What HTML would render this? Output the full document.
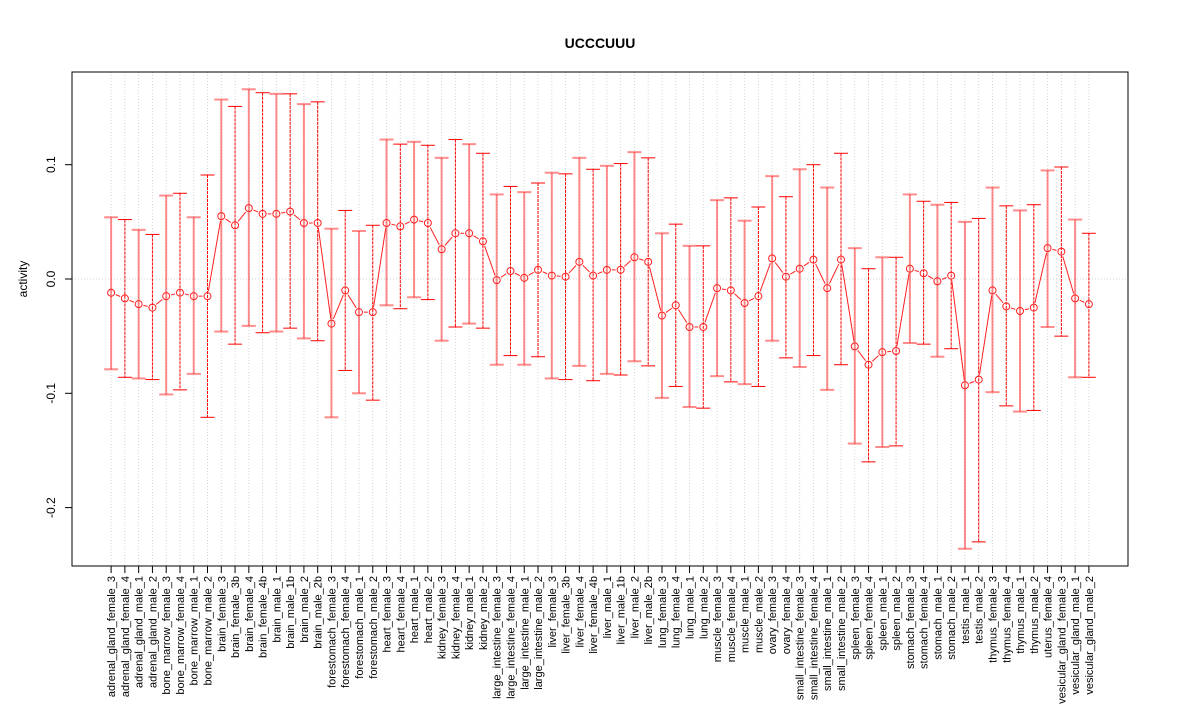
<!DOCTYPE html>
<html><head><meta charset="utf-8"><style>
body{margin:0;background:#fff;}
svg{display:block;font-family:"Liberation Sans",Arial,sans-serif;}
</style></head><body>
<svg id="chart" width="1200" height="720">
<text x="600" y="48" text-anchor="middle" font-weight="bold" font-size="14">UCCCUUU</text>
<text transform="translate(27,279) rotate(-90)" text-anchor="middle" font-size="12">activity</text>
<g id="grid"></g><g id="bars"></g><g id="lines"></g><g id="pts"></g><g id="axes"></g>
<rect x="72" y="72" width="1056" height="494" fill="none" stroke="#000"/>
</svg>
<script>
const categories=["adrenal_gland_female_3","adrenal_gland_female_4","adrenal_gland_male_1","adrenal_gland_male_2","bone_marrow_female_3","bone_marrow_female_4","bone_marrow_male_1","bone_marrow_male_2","brain_female_3","brain_female_3b","brain_female_4","brain_female_4b","brain_male_1","brain_male_1b","brain_male_2","brain_male_2b","forestomach_female_3","forestomach_female_4","forestomach_male_1","forestomach_male_2","heart_female_3","heart_female_4","heart_male_1","heart_male_2","kidney_female_3","kidney_female_4","kidney_male_1","kidney_male_2","large_intestine_female_3","large_intestine_female_4","large_intestine_male_1","large_intestine_male_2","liver_female_3","liver_female_3b","liver_female_4","liver_female_4b","liver_male_1","liver_male_1b","liver_male_2","liver_male_2b","lung_female_3","lung_female_4","lung_male_1","lung_male_2","muscle_female_3","muscle_female_4","muscle_male_1","muscle_male_2","ovary_female_3","ovary_female_4","small_intestine_female_3","small_intestine_female_4","small_intestine_male_1","small_intestine_male_2","spleen_female_3","spleen_female_4","spleen_male_1","spleen_male_2","stomach_female_3","stomach_female_4","stomach_male_1","stomach_male_2","testis_male_1","testis_male_2","thymus_female_3","thymus_female_4","thymus_male_1","thymus_male_2","uterus_female_4","vesicular_gland_female_3","vesicular_gland_male_1","vesicular_gland_male_2"];
const means=[-0.012,-0.017,-0.022,-0.025,-0.015,-0.012,-0.015,-0.015,0.055,0.047,0.062,0.057,0.057,0.059,0.049,0.049,-0.039,-0.010,-0.029,-0.029,0.049,0.046,0.052,0.049,0.026,0.040,0.040,0.033,-0.001,0.007,0.001,0.008,0.003,0.002,0.015,0.003,0.008,0.008,0.019,0.015,-0.032,-0.023,-0.042,-0.042,-0.008,-0.010,-0.021,-0.015,0.018,0.002,0.009,0.017,-0.008,0.017,-0.059,-0.075,-0.064,-0.063,0.009,0.005,-0.002,0.003,-0.093,-0.088,-0.010,-0.024,-0.028,-0.025,0.027,0.024,-0.017,-0.022];
const upper=[0.054,0.052,0.043,0.039,0.073,0.075,0.054,0.091,0.157,0.151,0.166,0.163,0.162,0.162,0.153,0.155,0.044,0.060,0.042,0.047,0.122,0.118,0.120,0.117,0.106,0.122,0.118,0.110,0.074,0.081,0.076,0.084,0.093,0.092,0.106,0.096,0.099,0.101,0.111,0.106,0.040,0.048,0.029,0.029,0.069,0.071,0.051,0.063,0.090,0.072,0.096,0.100,0.080,0.110,0.027,0.009,0.019,0.019,0.074,0.068,0.065,0.067,0.050,0.053,0.080,0.064,0.060,0.065,0.095,0.098,0.052,0.040];
const lower=[-0.079,-0.086,-0.087,-0.088,-0.101,-0.097,-0.083,-0.121,-0.046,-0.057,-0.041,-0.047,-0.046,-0.043,-0.052,-0.054,-0.121,-0.080,-0.100,-0.106,-0.023,-0.026,-0.016,-0.018,-0.054,-0.042,-0.039,-0.043,-0.075,-0.067,-0.075,-0.068,-0.087,-0.088,-0.076,-0.089,-0.083,-0.084,-0.072,-0.076,-0.104,-0.094,-0.112,-0.113,-0.085,-0.090,-0.092,-0.094,-0.054,-0.069,-0.077,-0.067,-0.097,-0.075,-0.144,-0.160,-0.147,-0.146,-0.056,-0.057,-0.068,-0.061,-0.236,-0.230,-0.099,-0.111,-0.116,-0.115,-0.042,-0.050,-0.086,-0.086];
const yTicks=[-0.2,-0.1,0.0,0.1];
const yTickLabels=["-0.2","-0.1","0.0","0.1"];
const NS="http://www.w3.org/2000/svg";
const n=categories.length;
const L=72,R=1128;
const pad=(n-1)*0.04;
function xS(i){return L+(i+pad)*(R-L)/(n-1+2*pad);}
function yS(v){return 279-v*1143;}
function mk(tag,attrs,parent){const e=document.createElementNS(NS,tag);for(const k in attrs)e.setAttribute(k,attrs[k]);document.getElementById(parent).appendChild(e);return e;}
for(let i=0;i<n;i++){const g=mk('line',{x1:xS(i),x2:xS(i),y1:72,y2:566,stroke:'#d3d3d3','stroke-dasharray':'1,2'},'grid');

}
const hg=mk('line',{x1:72,x2:1128,y1:yS(0),y2:yS(0),stroke:'#d3d3d3','stroke-dasharray':'1,2'},'grid');


for(let i=0;i<n;i++){const x=xS(i),yt=yS(upper[i]),yb=yS(lower[i]);
const thin=i%2===1;
const g=mk('g',{stroke:thin?'#ff0000':'#ff3030','stroke-opacity':thin?1:0.55,'stroke-width':thin?1:2},'bars');


const a=document.createElementNS(NS,'line');a.setAttribute('x1',x);a.setAttribute('x2',x);a.setAttribute('y1',yt);a.setAttribute('y2',yb);if(thin)a.setAttribute('stroke-dasharray','3,1');g.appendChild(a);
for(const yy of [yt,yb]){const c=document.createElementNS(NS,'line');c.setAttribute('x1',x-7);c.setAttribute('x2',x+7);c.setAttribute('y1',yy);c.setAttribute('y2',yy);g.appendChild(c);}}
for(let i=0;i<n-1;i++){const x1=xS(i),y1=yS(means[i]),x2=xS(i+1),y2=yS(means[i+1]);
const dx=x2-x1,dy=y2-y1,d=Math.hypot(dx,dy);if(d<10)continue;const ux=dx/d*5,uy=dy/d*5;
const l=mk('line',{x1:x1+ux,y1:y1+uy,x2:x2-ux,y2:y2-uy,stroke:'#ff2020','stroke-width':1},'lines');

}
for(let i=0;i<n;i++){const p=mk('circle',{cx:xS(i),cy:yS(means[i]),r:3.5,fill:'none',stroke:'#ff2020','stroke-width':1},'pts');

}
mk('line',{x1:72,x2:72,y1:yS(-0.2),y2:yS(0.1),stroke:'#000'},'axes');
for(let k=0;k<yTicks.length;k++){const y=yS(yTicks[k]);
mk('line',{x1:65,x2:72,y1:y,y2:y,stroke:'#000'},'axes');
const t=mk('text',{transform:`translate(55,${y}) rotate(-90)`,'text-anchor':'middle','font-size':12},'axes');t.textContent=yTickLabels[k];

}
mk('line',{x1:xS(0),x2:xS(n-1),y1:566,y2:566,stroke:'#000'},'axes');
for(let i=0;i<n;i++){const x=xS(i);
mk('line',{x1:x,x2:x,y1:566,y2:573,stroke:'#000'},'axes');
const t=mk('text',{transform:`translate(${x+4},576) rotate(-90)`,'text-anchor':'end','font-size':11},'axes');t.textContent=categories[i];

}
</script>
</body></html>
